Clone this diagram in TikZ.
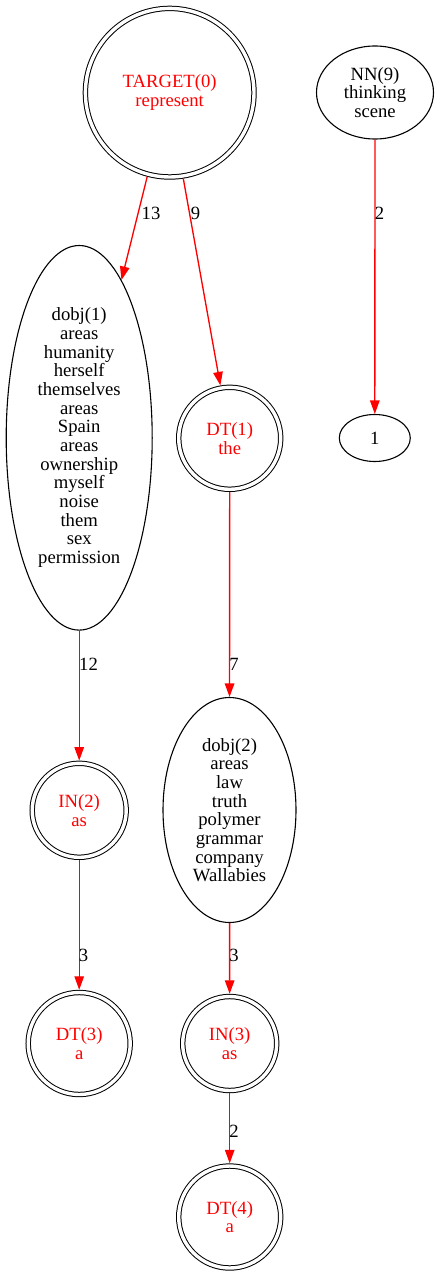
\documentclass[tikz,border=0pt]{standalone}
\usepackage{fontspec}
\setmainfont{Liberation Serif}
\usetikzlibrary{shapes.geometric,arrows.meta}
\tikzset{
  txt/.style={font=\fontsize{18.67pt}{18.67pt}\selectfont, align=center},
  dcirc/.style={txt, circle, draw=black, text=red, line width=1pt, double, double distance=3.4pt, inner sep=0pt, outer sep=2.7pt},
  ell/.style={txt, ellipse, draw=black, line width=1.1pt, inner sep=-8pt},
  edge/.style={draw=red, line width=1.33pt, -{Triangle[length=13.5pt,width=9.5pt]}},
  elab/.style={txt, inner sep=0pt}
}
\begin{document}
\begin{tikzpicture}[x=1pt,y=-1pt]
\useasboundingbox (0,0) rectangle (439,1276);
\node[dcirc, minimum size=168.6pt] (target) at (169.7,92.7) {TARGET(0)\\represent};
\node[ell, minimum width=117pt, minimum height=93pt] (nn9) at (375,92.5) {NN(9)\\thinking\\scene};
\node[ell, minimum width=146pt, minimum height=384.6pt] (dobj1) at (79.2,437.8) {dobj(1)\\areas\\humanity\\herself\\themselves\\areas\\Spain\\areas\\ownership\\myself\\noise\\them\\sex\\permission};
\node[dcirc, minimum size=102pt] (dt1) at (229.7,438.3) {DT(1)\\the};
\node[ell, minimum width=71pt, minimum height=47pt] (one) at (374.8,438) {1};
\node[dcirc, minimum size=94pt] (in2) at (79.2,810.3) {IN(2)\\as};
\node[ell, minimum width=133pt, minimum height=225pt] (dobj2) at (229.5,810) {dobj(2)\\areas\\law\\truth\\polymer\\grammar\\company\\Wallabies};
\node[dcirc, minimum size=102pt] (dt3) at (79.2,1043.5) {DT(3)\\a};
\node[dcirc, minimum size=94pt] (in3) at (229.7,1043.5) {IN(3)\\as};
\node[dcirc, minimum size=102pt] (dt4) at (229.7,1217) {DT(4)\\a};

\draw[edge] (target.255.3) -- (dobj1.75.6);
\draw[edge] (target.279.7) -- (dt1.100.4);
\draw[edge] (nn9) -- (one);
\draw[edge] (dobj1) -- (in2);
\draw[edge] (dt1) -- (dobj2);
\draw[edge] (in2) -- (dt3);
\draw[edge] (dobj2) -- (in3);
\draw[edge] (in3) -- (dt4);

\node[elab] (l13) at (151,213) {13};
\node[elab] (l9) at (195.5,213) {9};
\node[elab] (l2a) at (379.5,213) {2};
\node[elab] (l12) at (88.5,664) {12};
\node[elab] (l7) at (234,664) {7};
\node[elab] (l3a) at (83.5,955) {3};
\node[elab] (l3b) at (234,955) {3};
\node[elab] (l2b) at (234,1131) {2};
\end{tikzpicture}
\end{document}
